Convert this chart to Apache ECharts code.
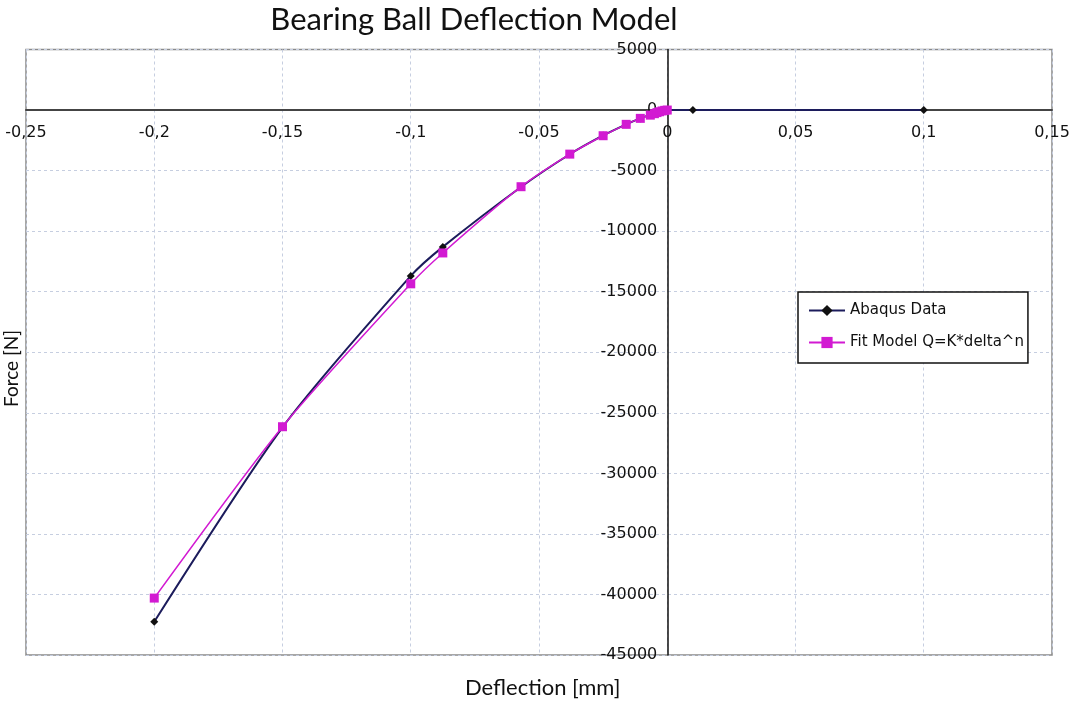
<!DOCTYPE html>
<html>
<head>
<meta charset="utf-8">
<script src="https://cdn.jsdelivr.net/npm/echarts@6/dist/echarts.min.js"></script>
<style>
  html, body { margin: 0; padding: 0; background: #ffffff; }
  #chart { width: 1070px; height: 701px; }
</style>
</head>
<body>
<div id="chart"></div>
<script>
// Ball deflection [mm] and contact force [N] from the FE run
const abaqusDeflection = [-0.2, -0.15, -0.1, -0.0875, -0.057, -0.038, -0.025, -0.016, -0.0105, -0.0066, -0.005, -0.004, -0.003, -0.002, -0.001, 0, 0.01, 0.1];
const abaqusForce      = [-42250, -26200, -13700, -11300, -6350, -3650, -2100, -1180, -690, -400, -300, -200, -140, -70, -30, 0, 0, 0];

// Power-law fit Q = K*delta^n evaluated at the same deflections
const fitDeflection = [-0.2, -0.15, -0.1, -0.0875, -0.057, -0.038, -0.025, -0.016, -0.0105, -0.0066, -0.005, -0.004, -0.003, -0.002, -0.001, 0];
const fitForce      = [-40300, -26150, -14350, -11800, -6330, -3640, -2120, -1180, -686, -420, -300, -210, -140, -75, -25, 0];

const seriesNames = ['Abaqus Data', 'Fit Model Q=K*delta^n'];

// Axis ranges
const xMin = -0.25, xMax = 0.15, xStep = 0.05;
const yMin = -45000, yMax = 5000, yStep = 5000;

const zip = (xs, ys) => xs.map((x, i) => [x, ys[i]]);
const comma = v => String(Number(v.toFixed(4))).replace('.', ',');
const plain = v => String(Math.round(v));

// Plot rectangle
const W = 1070, H = 701;
const G = { left: 26, right: 18, top: 49.5, bottom: 46 };
const plotW = W - G.left - G.right;
const plotH = H - G.top - G.bottom;
// Axes cross at the origin: shift them from the plot edges to x=0 / y=0
const yAxisShift = (0 - xMin) / (xMax - xMin) * plotW;
const xAxisShift = (0 - yMin) / (yMax - yMin) * plotH;

const chart = echarts.init(document.getElementById('chart'), null, { renderer: 'canvas' });

const gridLine = { show: true, lineStyle: { color: '#c6cee0', type: [3, 3], width: 1 } };
const tickFont = { fontFamily: 'DejaVu Sans', fontSize: 16, color: '#111' };

chart.setOption({
  backgroundColor: '#ffffff',
  animation: false,
  title: {
    text: 'Bearing Ball Deflection Model',
    left: 469,
    top: -1,
    textAlign: 'center',
    textStyle: { fontFamily: 'Lato', fontSize: 31, fontWeight: 'normal', color: '#111' }
  },
  legend: {
    orient: 'vertical',
    left: 798,
    top: 292,
    padding: [11, 4, 13, 10],
    itemGap: 17,
    itemWidth: 36,
    itemHeight: 14,
    backgroundColor: '#ffffff',
    borderColor: '#111',
    borderWidth: 1.5,
    borderRadius: 0,
    textStyle: { fontFamily: 'DejaVu Sans', fontSize: 15, color: '#111' },
    data: seriesNames
  },
  grid: {
    left: G.left, right: G.right, top: G.top, bottom: G.bottom,
    show: true,
    borderColor: '#8a8a8a',
    borderWidth: 1.5,
    containLabel: false,
    outerBoundsMode: 'none'
  },
  xAxis: {
    type: 'value',
    min: xMin, max: xMax, interval: xStep,
    position: 'bottom',
    offset: -xAxisShift,
    axisLine: { onZero: false, lineStyle: { color: '#444', width: 2 } },
    axisTick: { show: false },
    axisLabel: Object.assign({ margin: 15, formatter: comma }, tickFont),
    splitLine: gridLine
  },
  yAxis: {
    type: 'value',
    min: yMin, max: yMax, interval: yStep,
    position: 'left',
    offset: -yAxisShift,
    axisLine: { onZero: false, lineStyle: { color: '#111', width: 1.5 } },
    axisTick: { show: false },
    axisLabel: Object.assign({ margin: 10, formatter: plain }, tickFont),
    splitLine: gridLine
  },
  graphic: [
    {
      type: 'text', left: 465, top: 677,
      style: { text: 'Deflection [mm]', font: '22px Lato', fill: '#111' }
    },
    {
      type: 'text', x: 2, y: 407, rotation: Math.PI / 2,
      style: { text: 'Force [N]', font: '19px Lato', fill: '#111' }
    }
  ],
  series: [
    {
      name: seriesNames[0],
      type: 'line',
      data: zip(abaqusDeflection, abaqusForce),
      smooth: 0.25,
      symbol: 'diamond',
      symbolSize: 8,
      lineStyle: { color: '#1c1c5c', width: 2 },
      itemStyle: { color: '#111111' },
      z: 3
    },
    {
      name: seriesNames[1],
      type: 'line',
      data: zip(fitDeflection, fitForce),
      smooth: 0.25,
      symbol: 'rect',
      symbolSize: 9,
      lineStyle: { color: '#d21ad2', width: 1.5 },
      itemStyle: { color: '#d21ad2' },
      z: 4
    }
  ]
});
</script>
</body>
</html>
